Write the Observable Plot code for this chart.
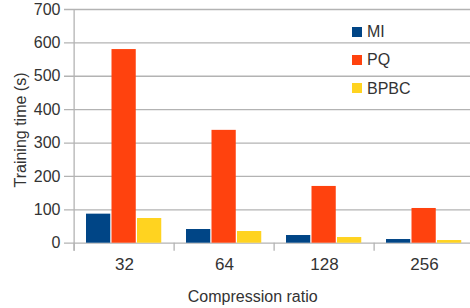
<!DOCTYPE html>
<html><head><meta charset="utf-8">
<script src="https://cdn.jsdelivr.net/npm/d3@7"></script>
<script src="https://cdn.jsdelivr.net/npm/@observablehq/plot@0.6"></script>
<style>
body{margin:0;background:#fff;}
#wrap{position:relative;width:470px;height:308px;font-family:"Liberation Sans",Arial,sans-serif;color:#333;overflow:hidden;}
#wrap svg{display:block;}
.ov{position:absolute;white-space:nowrap;line-height:16px;font-size:16px;color:#333;}
.sw{position:absolute;width:10px;height:10px;}
</style></head><body><div id="wrap"></div>
<script>
const groups = ["32", "64", "128", "256"];
const series = ["MI", "PQ", "BPBC"];
const MI = [87, 41, 23, 11];
const PQ = [580, 338, 170, 104];
const BPBC = [74, 35, 17, 8];
const yTicks = [0, 100, 200, 300, 400, 500, 600, 700];
const colors = ["#004586", "#ff420e", "#ffd320"];
const xTitle = "Compression ratio";
const yTitle = "Training time (s)";

const values = {MI, PQ, BPBC};
const rows = groups.flatMap((g, i) => series.map(s => ({group: g, series: s, value: values[s][i]})));

const grid = "#b3b3b3";
const insets = {MI: [12, 63.75], PQ: [37.5, 38.25], BPBC: [63, 12.75]};
const half = (475 - 72) / groups.length / 2;

const chart = Plot.plot({
  width: 470,
  height: 308,
  marginTop: 9,
  marginBottom: 65.3,
  marginLeft: 72,
  marginRight: -5,
  style: {fontFamily: "Liberation Sans, Arial, sans-serif", fontSize: "16px", color: "#333", background: "transparent", overflow: "visible"},
  x: {domain: groups, padding: 0},
  y: {domain: [0, 700]},
  color: {domain: series, range: colors},
  marks: [
    Plot.ruleY(yTicks, {y: d => d, stroke: grid, strokeWidth: 1.3, insetLeft: -8}),
    ...series.map(s => Plot.barY(rows.filter(r => r.series === s), {
      x: "group", y: "value", fill: "series",
      insetLeft: insets[s][0], insetRight: insets[s][1]
    })),
    Plot.ruleX(groups, {x: d => d, y1: 0, y2: 0, dx: -half, stroke: grid, strokeWidth: 1.3, insetBottom: -8}),
    Plot.ruleX(groups.slice(0, 1), {x: d => d, dx: -half, stroke: grid, strokeWidth: 1.3, insetBottom: -8}),
    Plot.axisY({ticks: yTicks, tickSize: 0, tickPadding: 12, label: null, fontSize: 16}),
    Plot.axisX({tickSize: 0, tickPadding: 15, label: null, fontSize: 17})
  ]
});

const wrap = document.getElementById("wrap");
wrap.appendChild(chart);

function ov(text, css) {
  const d = document.createElement("div");
  d.className = "ov";
  d.textContent = text;
  Object.assign(d.style, css);
  wrap.appendChild(d);
  return d;
}
ov(xTitle, {left: "252.7px", top: "288.8px", transform: "translateX(-50%)"});
ov(yTitle, {left: "21px", top: "129.5px", transform: "translate(-50%,-50%) rotate(-90deg)"});

series.forEach((s, i) => {
  const cy = 32 + i * 28.2;
  const sw = document.createElement("div");
  sw.className = "sw";
  sw.style.left = "352px";
  sw.style.top = (cy - 5) + "px";
  sw.style.background = colors[i];
  wrap.appendChild(sw);
  ov(s, {left: "367px", top: (cy - 7.8) + "px"});
});
</script>
</body></html>
